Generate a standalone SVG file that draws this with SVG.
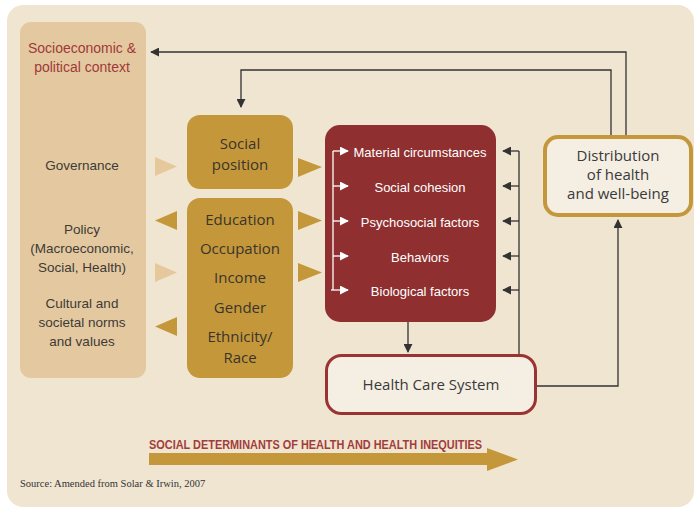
<svg xmlns="http://www.w3.org/2000/svg" width="694" height="508" viewBox="0 0 694 508">
<defs>
<style>
.ctx{font-family:"Liberation Sans",Arial,sans-serif;font-size:13.5px;fill:#3e3a36;text-anchor:middle}
.ctxh{font-family:"Liberation Sans",Arial,sans-serif;font-size:14px;fill:#a03a3a;text-anchor:middle}
.gold{font-family:"Open Sans",sans-serif;font-size:15px;fill:#3a342c;text-anchor:middle}
.red{font-family:"Liberation Sans",Arial,sans-serif;font-size:13px;fill:#ffffff;text-anchor:middle}
.lbl{font-family:"Open Sans",sans-serif;font-size:15px;fill:#3a3a3a;text-anchor:middle}
.conn{fill:none;stroke:#333333;stroke-width:1.3}
.wconn{fill:none;stroke:#ffffff;stroke-width:1.3}
.tri-d{fill:#c4983a}
.tri-l{fill:#e5c99c}
</style>
<marker id="ah" viewBox="0 0 10 10" refX="9" refY="5" markerWidth="9" markerHeight="9" markerUnits="userSpaceOnUse" orient="auto">
<path d="M0,0 L10,5 L0,10 Z" fill="#333333"/>
</marker>
<marker id="wah" viewBox="0 0 10 10" refX="9" refY="5" markerWidth="9" markerHeight="9" markerUnits="userSpaceOnUse" orient="auto">
<path d="M0,0 L10,5 L0,10 Z" fill="#ffffff"/>
</marker>
</defs>
<rect x="0" y="0" width="694" height="508" fill="#ffffff"/>
<rect id="background" x="7" y="5" width="687" height="502" rx="16" fill="#f0e5d1"/>

<g id="context">
<rect x="20" y="22" width="126" height="356" rx="11" fill="#e4c9a0"/>
<text class="ctxh" x="82" y="53">Socioeconomic &amp;</text>
<text class="ctxh" x="82" y="72">political context</text>
<text class="ctx" x="82" y="170">Governance</text>
<text class="ctx" x="82" y="234">Policy</text>
<text class="ctx" x="82" y="253">(Macroeconomic,</text>
<text class="ctx" x="82" y="272">Social, Health)</text>
<text class="ctx" x="82" y="308">Cultural and</text>
<text class="ctx" x="82" y="327">societal norms</text>
<text class="ctx" x="82" y="346">and values</text>
</g>

<g id="social-position">
<rect x="187" y="115" width="106" height="74" rx="13" fill="#c4983a"/>
<text class="gold" x="240" y="149">Social</text>
<text class="gold" x="240" y="170">position</text>
</g>

<g id="stratifiers">
<rect x="187" y="198" width="106" height="180" rx="13" fill="#c4983a"/>
<text class="gold" x="240" y="225">Education</text>
<text class="gold" x="240" y="254">Occupation</text>
<text class="gold" x="240" y="283">Income</text>
<text class="gold" x="240" y="313">Gender</text>
<text class="gold" x="240" y="342">Ethnicity/</text>
<text class="gold" x="240" y="363">Race</text>
</g>

<g id="intermediary">
<rect x="325" y="125" width="171" height="197" rx="15" fill="#8f2f2f"/>
<text class="red" x="420" y="157">Material circumstances</text>
<text class="red" x="420" y="192">Social cohesion</text>
<text class="red" x="420" y="227">Psychosocial factors</text>
<text class="red" x="420" y="262">Behaviors</text>
<text class="red" x="420" y="296">Biological factors</text>
</g>

<g id="health-care-system">
<rect x="326.5" y="355.5" width="209" height="58" rx="15" fill="#f5eee3" stroke="#9b3333" stroke-width="3"/>
<text class="lbl" x="431" y="390">Health Care System</text>
</g>

<g id="distribution">
<rect x="545" y="137" width="146" height="78" rx="13" fill="#f5eee3" stroke="#c4983a" stroke-width="4"/>
<text class="lbl" x="618" y="161">Distribution</text>
<text class="lbl" x="618" y="180">of health</text>
<text class="lbl" x="618" y="199">and well-being</text>
</g>

<g id="connectors">
<polygon class="tri-l" points="155,157 177,166.5 155,176"/>
<polygon class="tri-d" points="298,158 322,167 298,177"/>
<polygon class="tri-d" points="177,211 155,220.5 177,230"/>
<polygon class="tri-l" points="155,263 177,272.5 155,282"/>
<polygon class="tri-d" points="177,317 155,326.5 177,336"/>
<polygon class="tri-d" points="298,211 322,220.5 298,230"/>
<polygon class="tri-d" points="298,263 322,272.5 298,282"/>

<path class="conn" d="M626,135 V52 H151" marker-end="url(#ah)"/>
<path class="conn" d="M611,135 V70 H241 V107" marker-end="url(#ah)"/>
<path class="conn" d="M519,354 V151"/>
<path class="conn" d="M519,151 H503" marker-end="url(#ah)"/>
<path class="conn" d="M519,186 H503" marker-end="url(#ah)"/>
<path class="conn" d="M519,221 H503" marker-end="url(#ah)"/>
<path class="conn" d="M519,256 H503" marker-end="url(#ah)"/>
<path class="conn" d="M519,290 H503" marker-end="url(#ah)"/>
<path class="conn" d="M408,322 V352" marker-end="url(#ah)"/>
<path class="conn" d="M537,386 H618 V220" marker-end="url(#ah)"/>

<path class="wconn" d="M333,151 V290"/>
<path class="wconn" d="M333,151 H348" marker-end="url(#wah)"/>
<path class="wconn" d="M333,186 H348" marker-end="url(#wah)"/>
<path class="wconn" d="M333,221 H348" marker-end="url(#wah)"/>
<path class="wconn" d="M333,256 H348" marker-end="url(#wah)"/>
<path class="wconn" d="M331,290 H348" marker-end="url(#wah)"/>
</g>

<g id="sdh-arrow">
<text x="149" y="449" font-family="'Liberation Sans',Arial,sans-serif" font-size="13" font-weight="bold" fill="#a23c3c" textLength="333" lengthAdjust="spacingAndGlyphs">SOCIAL DETERMINANTS OF HEALTH AND HEALTH INEQUITIES</text>
<polygon points="149,453 487,453 487,448 518,459.5 487,471 487,465 149,465" fill="#c4983a"/>
</g>

<text id="source" x="20" y="487" font-family="'Liberation Serif','Times New Roman',serif" font-size="10.5" fill="#333333">Source: Amended from Solar &amp; Irwin, 2007</text>
</svg>
